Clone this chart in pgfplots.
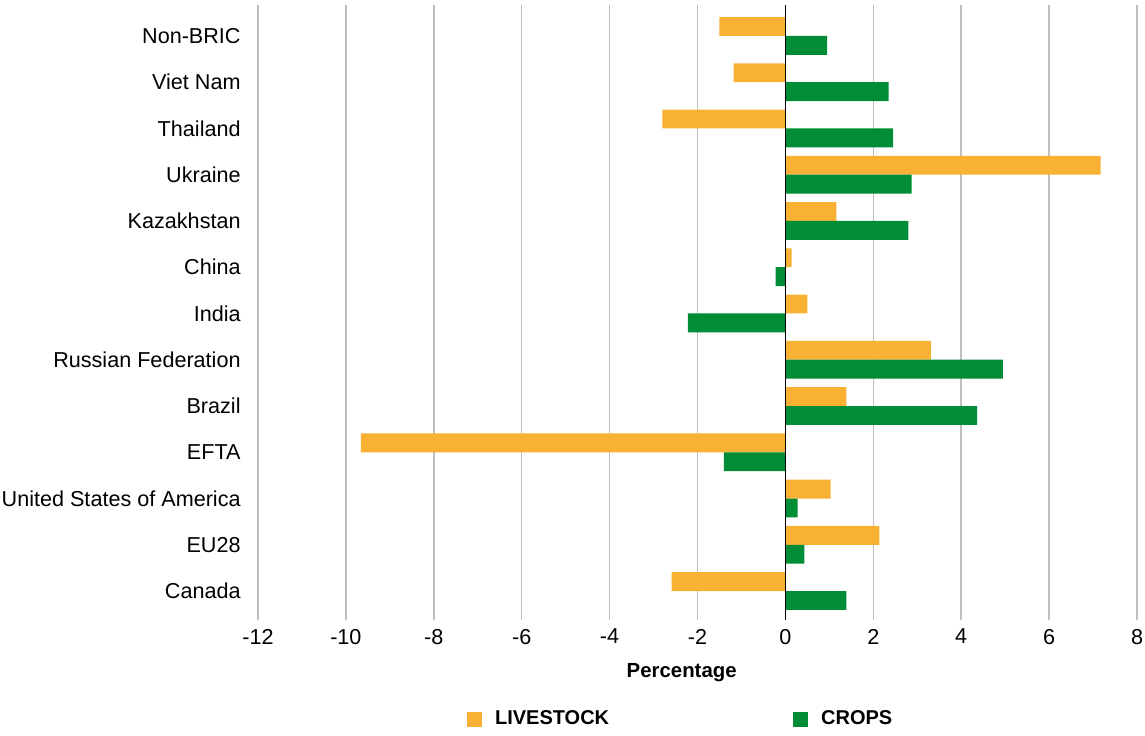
\documentclass[border=0pt]{standalone}
\usepackage{pgfplots}
\pgfplotsset{compat=1.18}
\usepackage{fontspec}
\setmainfont{Liberation Sans}
\definecolor{livestock}{HTML}{F8B133}
\definecolor{crops}{HTML}{008D36}
\definecolor{gridgray}{HTML}{BFBFBF}

% y index: 0 = Canada ... 12 = Non-BRIC
\pgfplotstableread{
y   livestock  crops
0   -2.59      1.39
1    2.14      0.43
2    1.03      0.28
3   -9.66     -1.40
4    1.39      4.36
5    3.31      4.95
6    0.50     -2.22
7    0.14     -0.22
8    1.16      2.80
9    7.17      2.87
10  -2.80      2.45
11  -1.18      2.35
12  -1.50      0.95
}\mydata

\begin{document}
\begin{tikzpicture}
\begin{axis}[
    scale only axis,
    width=439.5pt, height=307.5pt,
    xmin=-12, xmax=8,
    ymin=-0.627, ymax=12.67,
    xtick={-12,-10,...,8},
    ytick={0,...,12},
    yticklabels={Canada, EU28, United States of America, EFTA, Brazil,
      Russian Federation, India, China, Kazakhstan, Ukraine, Thailand,
      Viet Nam, Non-BRIC},
    axis line style={draw=none},
    major tick length=0pt,
    xmajorgrids,
    grid style={gridgray, line width=0.75pt},
    /pgf/number format/assume math mode=true,
    tick label style={font=\fontsize{10.8}{13}\selectfont},
    yticklabel style={anchor=east, inner sep=0pt, xshift=-8.5pt},
    xticklabel style={yshift=-1pt},
    xlabel={Percentage},
    xlabel style={font=\fontsize{10.2}{12}\selectfont\bfseries,
      at={(axis description cs:0.482,-0.086)}, anchor=center},
    legend columns=2,
    legend style={draw=none, at={(axis description cs:0.482,-0.161)},
      anchor=center, font=\fontsize{10}{12}\selectfont\bfseries,
      /tikz/every odd column/.append style={column sep=4.5pt},
      /tikz/every even column/.append style={column sep=90pt}},
  ]
  \addplot[xbar, bar width=0.41, bar shift=0.205, fill=livestock, draw=none,
    legend image code/.code={\fill[livestock] (0pt,-3.75pt) rectangle (7.5pt,3.75pt);}]
    table[x=livestock, y=y] {\mydata};
  \addlegendentry{LIVESTOCK}
  \addplot[xbar, bar width=0.41, bar shift=-0.205, fill=crops, draw=none,
    legend image code/.code={\fill[crops] (0pt,-3.75pt) rectangle (7.5pt,3.75pt);}]
    table[x=crops, y=y] {\mydata};
  \addlegendentry{CROPS}
  \draw[black, line width=0.9pt] (axis cs:0,-0.627) -- (axis cs:0,12.67);
\end{axis}
\pgfresetboundingbox
\path[use as bounding box] (current axis.south west) ++(-129pt,-57.5pt) rectangle ++(572.5pt,367.5pt);
\end{tikzpicture}
\end{document}
